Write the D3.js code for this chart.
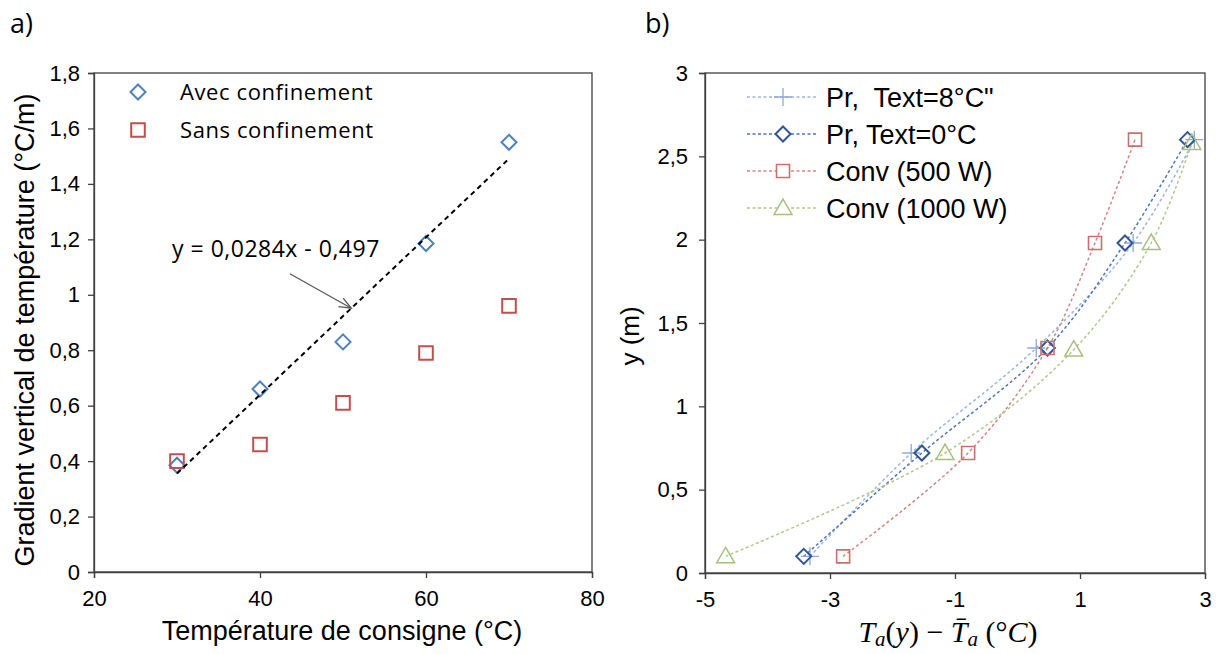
<!DOCTYPE html>
<html>
<head>
<meta charset="utf-8">
<script src="https://cdn.jsdelivr.net/npm/d3@7"></script>
<style>
  html, body { margin: 0; padding: 0; background: #fff; }
  svg { display: block; }
  text { white-space: pre; }
</style>
</head>
<body>
<svg id="chart" width="1216" height="654"></svg>
<script>
// ---------- DATA: panel a ----------
const consigne = [30, 40, 50, 60, 70];
const avecConfinement = [0.385, 0.66, 0.83, 1.185, 1.55];
const sansConfinement = [0.40, 0.46, 0.61, 0.79, 0.96];
const trendSlope = 0.0284;
const trendIntercept = -0.497;
const trendRange = [30, 70];
const leftXTicks = [20, 40, 60, 80];
const leftXTickLabels = ["20", "40", "60", "80"];
const leftYTicks = [0, 0.2, 0.4, 0.6, 0.8, 1.0, 1.2, 1.4, 1.6, 1.8];
const leftYTickLabels = ["0", "0,2", "0,4", "0,6", "0,8", "1", "1,2", "1,4", "1,6", "1,8"];
const leftLegend = ["Avec confinement", "Sans confinement"];

// ---------- DATA: panel b ----------
const heights = [0.10, 0.72, 1.35, 1.98, 2.60];
const heightsConv1000 = [0.10, 0.72, 1.34, 1.98, 2.58];
const prText8 = [-3.32, -1.70, 0.30, 1.85, 2.83];
const prText0 = [-3.42, -1.53, 0.48, 1.72, 2.72];
const conv500 = [-2.79, -0.79, 0.48, 1.24, 1.88];
const conv1000 = [-4.67, -1.16, 0.90, 2.14, 2.79];
const rightSeriesNames = ["Pr,  Text=8°C\"", "Pr, Text=0°C", "Conv (500 W)", "Conv (1000 W)"];
const rightXTicks = [-5, -3, -1, 1, 3];
const rightXTickLabels = ["-5", "-3", "-1", "1", "3"];
const rightYTicks = [0, 0.5, 1, 1.5, 2, 2.5, 3];
const rightYTickLabels = ["0", "0,5", "1", "1,5", "2", "2,5", "3"];

// ---------- helpers ----------
const svg = d3.select("#chart");
const AXIS = "#404040";
const TICKFONT = "'Liberation Sans', Arial, sans-serif";

function markerPath(type, s) {
  if (type === "diamond") return `M0,${-s}L${s},0L0,${s}L${-s},0Z`;
  if (type === "square") return `M${-s},${-s}H${s}V${s}H${-s}Z`;
  if (type === "triangle") return `M0,${-s * 1.05}L${s * 1.05},${s * 0.75}L${-s * 1.05},${s * 0.75}Z`;
  if (type === "plus") return `M${-s},0H${s}M0,${-s}V${s}`;
  return "";
}

function styleAxis(g) {
  g.select(".domain").attr("stroke", AXIS).attr("stroke-width", 1.3);
  g.selectAll(".tick line").attr("stroke", AXIS).attr("stroke-width", 1.3);
  g.selectAll(".tick text")
    .attr("fill", "#000")
    .style("font-family", TICKFONT)
    .style("font-size", "22px");
}

// ================= PANEL A =================
const xA = d3.scaleLinear().domain([20, 80]).range([94, 592]);
const yA = d3.scaleLinear().domain([0, 1.8]).range([572, 73]);

svg.append("text").text("a)")
  .attr("x", 10).attr("y", 33)
  .style("font-family", "'Open Sans', sans-serif").style("font-size", "27px").attr("fill", "#000");

// frame
svg.append("rect")
  .attr("x", xA(20)).attr("y", yA(1.8))
  .attr("width", xA(80) - xA(20)).attr("height", yA(0) - yA(1.8))
  .attr("fill", "none").attr("stroke", AXIS).attr("stroke-width", 1.3);

const gxA = svg.append("g").attr("transform", `translate(0,${yA(0)})`)
  .call(d3.axisBottom(xA).tickValues(leftXTicks).tickFormat((d, i) => leftXTickLabels[i]).tickSize(6).tickPadding(12));
styleAxis(gxA);
const gyA = svg.append("g").attr("transform", `translate(${xA(20)},0)`)
  .call(d3.axisLeft(yA).tickValues(leftYTicks).tickFormat((d, i) => leftYTickLabels[i]).tickSize(6).tickPadding(8));
styleAxis(gyA);

// axis titles
svg.append("text").text("Température de consigne (°C)")
  .attr("x", 342).attr("y", 640).attr("text-anchor", "middle")
  .style("font-family", "'Liberation Sans', Arial, sans-serif").style("font-size", "27px").attr("fill", "#000");
svg.append("text").text("Gradient vertical de température (°C/m)")
  .attr("transform", "translate(34,330) rotate(-90)").attr("text-anchor", "middle")
  .style("font-family", "'Liberation Sans', Arial, sans-serif").style("font-size", "27px").attr("fill", "#000");

// markers
svg.append("g").selectAll("path").data(consigne).join("path")
  .attr("d", markerPath("diamond", 7.5))
  .attr("transform", (d, i) => `translate(${xA(d)},${yA(avecConfinement[i])})`)
  .attr("fill", "none").attr("stroke", "#4F81BD").attr("stroke-width", 2);
svg.append("g").selectAll("path").data(consigne).join("path")
  .attr("d", markerPath("square", 6.8))
  .attr("transform", (d, i) => `translate(${xA(d)},${yA(sansConfinement[i])})`)
  .attr("fill", "none").attr("stroke", "#C0504D").attr("stroke-width", 2);

// trendline
svg.append("line")
  .attr("x1", xA(trendRange[0])).attr("y1", yA(trendSlope * trendRange[0] + trendIntercept))
  .attr("x2", xA(trendRange[1])).attr("y2", yA(trendSlope * trendRange[1] + trendIntercept))
  .attr("stroke", "#000").attr("stroke-width", 2).attr("stroke-dasharray", "5,4");

// equation annotation + arrow
svg.append("text").text("y = 0,0284x - 0,497")
  .attr("x", xA(29.4)).attr("y", yA(1.137))
  .style("font-family", "'Open Sans', sans-serif").style("font-size", "23px").style("letter-spacing", "0.5px").attr("fill", "#000");
const arrowX0 = 43.6, arrowY0 = 1.076, arrowX1 = 51.0;
const ax0 = xA(arrowX0), ay0 = yA(arrowY0), ax1 = xA(arrowX1), ay1 = yA(trendSlope * arrowX1 + trendIntercept);
svg.append("line").attr("x1", ax0).attr("y1", ay0).attr("x2", ax1).attr("y2", ay1)
  .attr("stroke", "#595959").attr("stroke-width", 1.3);
{
  const ang = Math.atan2(ay1 - ay0, ax1 - ax0);
  const L = 13, spread = 0.38;
  const p1 = [ax1 - L * Math.cos(ang - spread), ay1 - L * Math.sin(ang - spread)];
  const p2 = [ax1 - L * Math.cos(ang + spread), ay1 - L * Math.sin(ang + spread)];
  svg.append("path").attr("d", `M${p1[0]},${p1[1]}L${ax1},${ay1}L${p2[0]},${p2[1]}`)
    .attr("fill", "none").attr("stroke", "#595959").attr("stroke-width", 1.3);
}

// legend a
const legA = svg.append("g");
[["diamond", "#4F81BD", 7.5], ["square", "#C0504D", 6.8]].forEach((m, i) => {
  const cy = 92 + i * 38;
  legA.append("path").attr("d", markerPath(m[0], m[2]))
    .attr("transform", `translate(138,${cy})`)
    .attr("fill", "none").attr("stroke", m[1]).attr("stroke-width", 2);
  legA.append("text").text(leftLegend[i])
    .attr("x", 180).attr("y", cy + 8)
    .style("font-family", "'Open Sans', sans-serif").style("font-size", "22px").style("letter-spacing", "0.6px").attr("fill", "#000");
});

// ================= PANEL B =================
const xB = d3.scaleLinear().domain([-5, 3]).range([705, 1205]);
const yB = d3.scaleLinear().domain([0, 3]).range([573, 73]);

svg.append("text").text("b)")
  .attr("x", 645).attr("y", 33)
  .style("font-family", "'Open Sans', sans-serif").style("font-size", "27px").attr("fill", "#000");

svg.append("rect")
  .attr("x", xB(-5)).attr("y", yB(3))
  .attr("width", xB(3) - xB(-5)).attr("height", yB(0) - yB(3))
  .attr("fill", "none").attr("stroke", AXIS).attr("stroke-width", 1.3);

const gxB = svg.append("g").attr("transform", `translate(0,${yB(0)})`)
  .call(d3.axisBottom(xB).tickValues(rightXTicks).tickFormat((d, i) => rightXTickLabels[i]).tickSize(6).tickPadding(12));
styleAxis(gxB);
const gyB = svg.append("g").attr("transform", `translate(${xB(-5)},0)`)
  .call(d3.axisLeft(yB).tickValues(rightYTicks).tickFormat((d, i) => rightYTickLabels[i]).tickSize(6).tickPadding(11));
styleAxis(gyB);

svg.append("text").text("y (m)")
  .attr("transform", "translate(639,336) rotate(-90)").attr("text-anchor", "middle")
  .style("font-family", "'Liberation Sans', Arial, sans-serif").style("font-size", "26px").attr("fill", "#000");

// math x-title
{
  const t = svg.append("text").attr("x", 948).attr("y", 642).attr("text-anchor", "middle")
    .style("font-family", "'Liberation Serif', 'DejaVu Serif', serif").style("font-size", "30px").attr("fill", "#000");
  t.append("tspan").text("T").style("font-style", "italic");
  t.append("tspan").text("a").style("font-style", "italic").style("font-size", "21px").attr("dy", 4);
  t.append("tspan").text("(").attr("dy", -4);
  t.append("tspan").text("y").style("font-style", "italic");
  t.append("tspan").text(") − ");
  t.append("tspan").text("T\u0304").style("font-style", "italic");
  t.append("tspan").text("a").style("font-style", "italic").style("font-size", "21px").attr("dy", 4);
  t.append("tspan").text(" (°").attr("dy", -4);
  t.append("tspan").text("C").style("font-style", "italic");
  t.append("tspan").text(")");
}

const seriesB = [
  { name: rightSeriesNames[0], xs: prText8, ys: heights, marker: "plus", size: 9, mcol: "#8EA9DB", lcol: "#9DB5DD", mw: 1.3 },
  { name: rightSeriesNames[1], xs: prText0, ys: heights, marker: "diamond", size: 7.5, mcol: "#2F5597", lcol: "#4E73B8", mw: 2 },
  { name: rightSeriesNames[2], xs: conv500, ys: heights, marker: "square", size: 6.5, mcol: "#C9706E", lcol: "#D48583", mw: 1.6 },
  { name: rightSeriesNames[3], xs: conv1000, ys: heightsConv1000, marker: "triangle", size: 8.5, mcol: "#A8BF80", lcol: "#B2C78C", mw: 1.5 }
];

const lineGen = d3.line().x(d => xB(d[0])).y(d => yB(d[1])).curve(d3.curveCatmullRom.alpha(0.5));

seriesB.forEach(s => {
  const pts = s.xs.map((x, i) => [x, s.ys[i]]);
  svg.append("path").datum(pts).attr("d", lineGen)
    .attr("fill", "none").attr("stroke", s.lcol).attr("stroke-width", 1.5).attr("stroke-dasharray", "3,2.5");
});
seriesB.forEach(s => {
  const pts = s.xs.map((x, i) => [x, s.ys[i]]);
  svg.append("g").selectAll("path").data(pts).join("path")
    .attr("d", markerPath(s.marker, s.size))
    .attr("transform", d => `translate(${xB(d[0])},${yB(d[1])})`)
    .attr("fill", "none").attr("stroke", s.mcol).attr("stroke-width", s.mw);
});

// legend b
seriesB.forEach((s, i) => {
  const cy = 97 + i * 37;
  svg.append("line").attr("x1", 747).attr("x2", 818).attr("y1", cy).attr("y2", cy)
    .attr("stroke", s.lcol).attr("stroke-width", 1.3).attr("stroke-dasharray", "3,2.5");
  svg.append("path").attr("d", markerPath(s.marker, s.size))
    .attr("transform", `translate(783,${cy})`)
    .attr("fill", "#fff").attr("stroke", s.mcol).attr("stroke-width", s.mw);
  svg.append("text").text(s.name)
    .attr("x", 826).attr("y", cy + 10)
    .style("font-family", "'Liberation Sans', Arial, sans-serif").style("font-size", "27px").attr("fill", "#000");
});
</script>
</body>
</html>
